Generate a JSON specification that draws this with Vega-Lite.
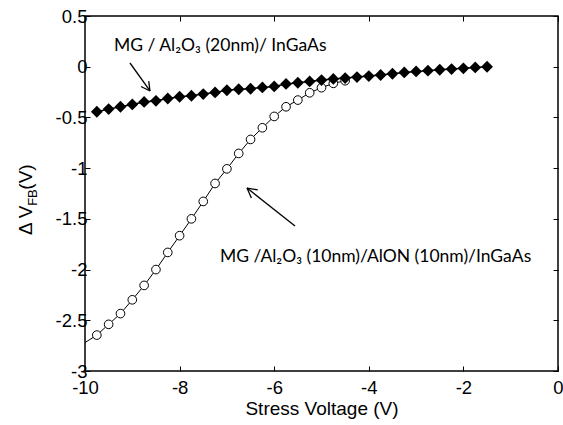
{
  "$schema": "https://vega.github.io/schema/vega-lite/v6.json",
  "width": 473,
  "height": 355,
  "autosize": {"type": "none"},
  "padding": {"left": 85, "top": 16, "right": 5, "bottom": 54},
  "background": "white",
  "config": {
    "view": {"stroke": "black", "strokeWidth": 1.5},
    "axis": {
      "domain": false,
      "grid": false,
      "labelFlush": false,
      "labelOverlap": false,
      "tickColor": "black",
      "tickSize": -5,
      "tickWidth": 1,
      "labelFont": "Liberation Sans",
      "labelFontSize": 18.5,
      "labelColor": "black",
      "titleFont": "Liberation Sans",
      "titleFontSize": 19,
      "titleFontWeight": "normal",
      "titleColor": "black"
    }
  },
  "datasets": {
    "filled": [
      {"V": -9.75, "D": -0.444}, {"V": -9.5, "D": -0.418}, {"V": -9.25, "D": -0.395},
      {"V": -9.0, "D": -0.372}, {"V": -8.75, "D": -0.347}, {"V": -8.5, "D": -0.336},
      {"V": -8.25, "D": -0.313}, {"V": -8.0, "D": -0.296}, {"V": -7.75, "D": -0.286},
      {"V": -7.5, "D": -0.27}, {"V": -7.25, "D": -0.253}, {"V": -7.0, "D": -0.232},
      {"V": -6.75, "D": -0.222}, {"V": -6.5, "D": -0.217}, {"V": -6.25, "D": -0.204},
      {"V": -6.0, "D": -0.194}, {"V": -5.75, "D": -0.17}, {"V": -5.5, "D": -0.158},
      {"V": -5.25, "D": -0.145}, {"V": -5.0, "D": -0.132}, {"V": -4.75, "D": -0.12},
      {"V": -4.5, "D": -0.112}, {"V": -4.25, "D": -0.102}, {"V": -4.0, "D": -0.092},
      {"V": -3.75, "D": -0.082}, {"V": -3.5, "D": -0.069}, {"V": -3.25, "D": -0.056},
      {"V": -3.0, "D": -0.046}, {"V": -2.75, "D": -0.039}, {"V": -2.5, "D": -0.03},
      {"V": -2.25, "D": -0.023}, {"V": -2.0, "D": -0.016}, {"V": -1.75, "D": -0.007},
      {"V": -1.5, "D": 0.0}
    ],
    "open": [
      {"V": -10.0, "D": -2.72},
      {"V": -9.75, "D": -2.646}, {"V": -9.5, "D": -2.54}, {"V": -9.25, "D": -2.434},
      {"V": -9.0, "D": -2.298}, {"V": -8.75, "D": -2.156}, {"V": -8.5, "D": -2.0},
      {"V": -8.25, "D": -1.831}, {"V": -8.0, "D": -1.666}, {"V": -7.75, "D": -1.5},
      {"V": -7.5, "D": -1.328}, {"V": -7.25, "D": -1.151}, {"V": -7.0, "D": -1.007},
      {"V": -6.75, "D": -0.855}, {"V": -6.5, "D": -0.717}, {"V": -6.25, "D": -0.602},
      {"V": -6.0, "D": -0.49}, {"V": -5.75, "D": -0.395}, {"V": -5.5, "D": -0.329},
      {"V": -5.25, "D": -0.257}, {"V": -5.0, "D": -0.207}, {"V": -4.75, "D": -0.164},
      {"V": -4.5, "D": -0.138}
    ],
    "arrows": [
      {"x1": -9.049, "y1": 0.0366, "x2": -8.626, "y2": -0.2394},
      {"x1": -8.653, "y1": -0.1418, "x2": -8.626, "y2": -0.2394},
      {"x1": -8.816, "y1": -0.1951, "x2": -8.626, "y2": -0.2394},
      {"x1": -5.56, "y1": -1.57, "x2": -6.575, "y2": -1.196},
      {"x1": -6.482, "y1": -1.295, "x2": -6.575, "y2": -1.196},
      {"x1": -6.347, "y1": -1.215, "x2": -6.575, "y2": -1.196}
    ],
    "notes": [
      {"V": -9.387, "D": 0.155, "t": "MG / Al₂O₃ (20nm)/ InGaAs"},
      {"V": -7.146, "D": -1.925, "t": "MG /Al₂O₃ (10nm)/AlON (10nm)/InGaAs"}
    ],
    "ytitle": [
      {"V": -11.12, "D": -1.66, "t": "Δ V", "part": "main"},
      {"V": -11.12, "D": -1.372, "t": "FB", "part": "sub"},
      {"V": -11.12, "D": -1.212, "t": " (V)", "part": "main"}
    ]
  },
  "layer": [
    {
      "data": {"name": "open"},
      "mark": {"type": "line", "color": "black", "strokeWidth": 1},
      "encoding": {
        "x": {"field": "V", "type": "quantitative", "scale": {"domain": [-10, 0], "nice": false},
              "axis": {"orient": "bottom", "values": [-10, -8, -6, -4, -2, 0], "labelExpr": "'' + datum.value", "labelPadding": 12, "title": "Stress Voltage (V)", "titlePadding": 3}},
        "y": {"field": "D", "type": "quantitative", "scale": {"domain": [-3, 0.5], "nice": false},
              "axis": {"orient": "left", "values": [-3, -2.5, -2, -1.5, -1, -0.5, 0, 0.5], "labelExpr": "'' + datum.value", "labelPadding": 3, "title": null}}
      }
    },
    {
      "data": {"name": "open"},
      "transform": [{"filter": "datum.V > -10"}],
      "mark": {"type": "point", "shape": "circle", "filled": true, "fill": "white", "stroke": "black", "strokeWidth": 1, "size": 75, "opacity": 1},
      "encoding": {
        "x": {"field": "V", "type": "quantitative", "axis": {"orient": "top", "values": [-10, -8, -6, -4, -2, 0], "labels": false, "title": null}},
        "y": {"field": "D", "type": "quantitative", "axis": {"orient": "right", "values": [-3, -2.5, -2, -1.5, -1, -0.5, 0, 0.5], "labels": false, "title": null}}
      }
    },
    {
      "data": {"name": "filled"},
      "mark": {"type": "line", "color": "black", "strokeWidth": 1.5},
      "encoding": {
        "x": {"field": "V", "type": "quantitative", "axis": null},
        "y": {"field": "D", "type": "quantitative", "axis": null}
      }
    },
    {
      "data": {"name": "filled"},
      "mark": {"type": "point", "shape": "diamond", "filled": true, "color": "black", "size": 140, "opacity": 1},
      "encoding": {
        "x": {"field": "V", "type": "quantitative", "axis": null},
        "y": {"field": "D", "type": "quantitative", "axis": null}
      }
    },
    {
      "data": {"name": "arrows"},
      "mark": {"type": "rule", "color": "black", "strokeWidth": 1.3},
      "encoding": {
        "x": {"field": "x1", "type": "quantitative", "axis": null},
        "y": {"field": "y1", "type": "quantitative", "axis": null},
        "x2": {"field": "x2"},
        "y2": {"field": "y2"}
      }
    },
    {
      "data": {"name": "notes"},
      "mark": {"type": "text", "align": "left", "baseline": "alphabetic", "font": "Lato", "fontSize": 17.5, "color": "black"},
      "encoding": {
        "x": {"field": "V", "type": "quantitative", "axis": null},
        "y": {"field": "D", "type": "quantitative", "axis": null},
        "text": {"field": "t"}
      }
    },
    {
      "data": {"name": "ytitle"},
      "transform": [{"filter": "datum.part == 'main'"}],
      "mark": {"type": "text", "align": "left", "baseline": "alphabetic", "angle": 270, "font": "Liberation Sans", "fontSize": 19, "color": "black"},
      "encoding": {
        "x": {"field": "V", "type": "quantitative", "axis": null},
        "y": {"field": "D", "type": "quantitative", "axis": null},
        "text": {"field": "t"}
      }
    },
    {
      "data": {"name": "ytitle"},
      "transform": [{"filter": "datum.part == 'sub'"}],
      "mark": {"type": "text", "align": "left", "baseline": "alphabetic", "angle": 270, "dy": 5, "font": "Liberation Sans", "fontSize": 13, "color": "black"},
      "encoding": {
        "x": {"field": "V", "type": "quantitative", "axis": null},
        "y": {"field": "D", "type": "quantitative", "axis": null},
        "text": {"field": "t"}
      }
    }
  ],
  "resolve": {"axis": {"x": "independent", "y": "independent"}}
}
